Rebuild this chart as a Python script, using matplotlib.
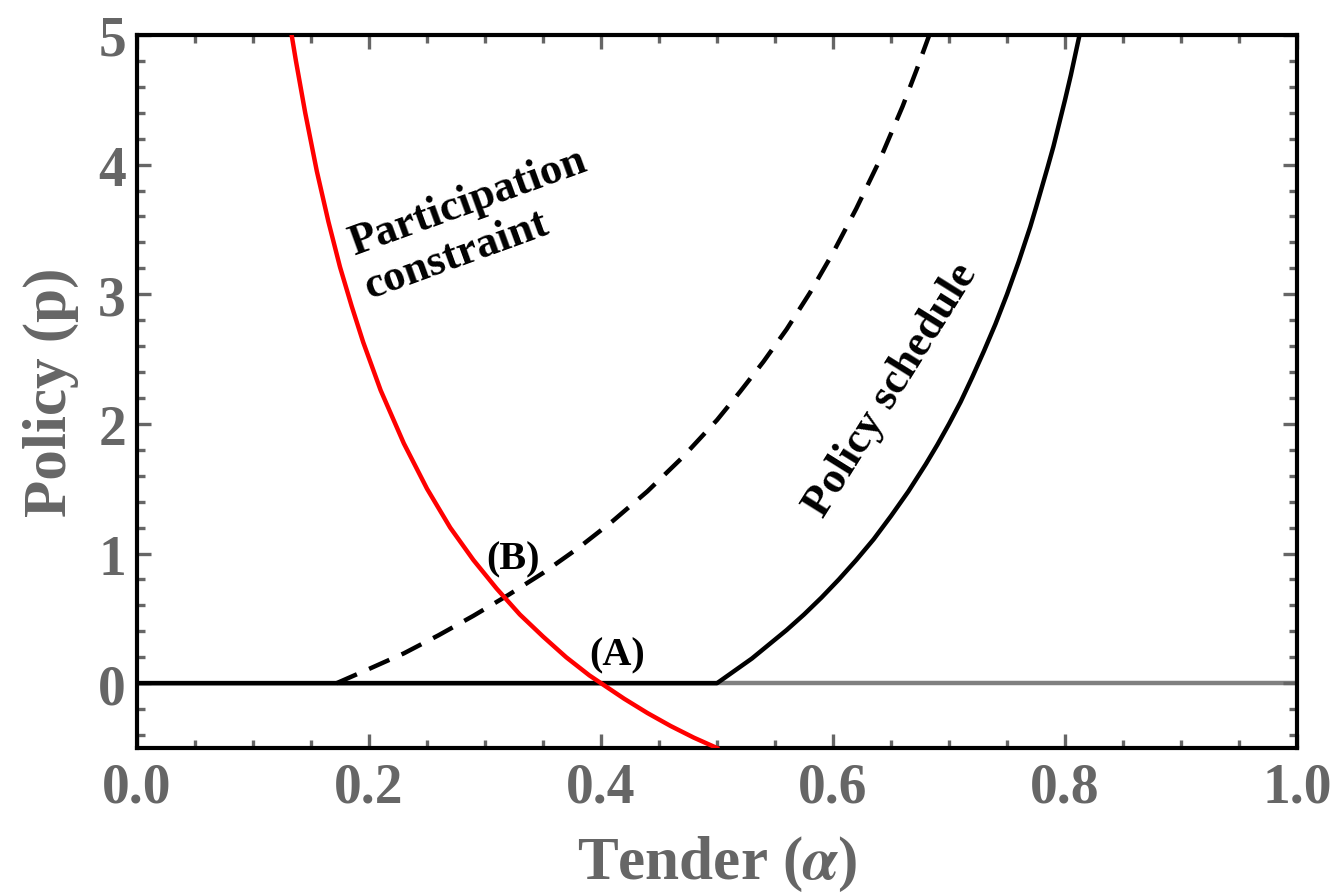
import numpy as np
import matplotlib.pyplot as plt
from matplotlib.ticker import MultipleLocator

plt.rcParams['font.family'] = ['Liberation Serif', 'DejaVu Serif']
plt.rcParams['font.weight'] = 'bold'
plt.rcParams['mathtext.fontset'] = 'stix'

# participation constraint (red)
a_part = [0.1333, 0.137, 0.145, 0.155, 0.165, 0.175, 0.185, 0.195, 0.210, 0.230,
          0.250, 0.270, 0.290, 0.310, 0.330, 0.350, 0.370, 0.390, 0.400, 0.420,
          0.440, 0.460, 0.480, 0.500]
p_part = [5.00, 4.80, 4.40, 3.95, 3.56, 3.21, 2.91, 2.63, 2.26, 1.85,
          1.50, 1.20, 0.95, 0.73, 0.53, 0.36, 0.20, 0.06, 0.00, -0.12,
          -0.23, -0.33, -0.42, -0.50]

# dashed schedule
a_dash = [0.172, 0.200, 0.230, 0.260, 0.290, 0.320, 0.350, 0.380, 0.410, 0.440,
          0.470, 0.500, 0.520, 0.540, 0.560, 0.580, 0.600, 0.620, 0.640, 0.660,
          0.672, 0.683]
p_dash = [0.00, 0.11, 0.23, 0.37, 0.52, 0.68, 0.85, 1.04, 1.25, 1.48,
          1.74, 2.03, 2.25, 2.48, 2.73, 3.01, 3.32, 3.66, 4.03, 4.45,
          4.73, 5.00]

# policy schedule (solid)
a_pol = [0.000, 0.500, 0.530, 0.545, 0.560, 0.575, 0.590, 0.605, 0.620, 0.635,
         0.650, 0.665, 0.680, 0.690, 0.700, 0.710, 0.720, 0.730, 0.740, 0.750,
         0.760, 0.770, 0.775, 0.785, 0.790, 0.800, 0.805, 0.8125]
p_pol = [0.00, 0.00, 0.19, 0.30, 0.41, 0.53, 0.66, 0.80, 0.95, 1.11,
         1.29, 1.48, 1.69, 1.84, 2.00, 2.17, 2.36, 2.56, 2.77, 3.00,
         3.25, 3.52, 3.67, 3.98, 4.14, 4.50, 4.69, 5.00]

gray = '#666666'

fig = plt.figure(figsize=(13.34, 8.95), dpi=100)
ax = fig.add_axes([0.1027, 0.1631, 0.8696, 0.7967])

ax.axhline(0, color='#808080', lw=3.2, zorder=1)
ax.plot(a_dash, p_dash, color='black', lw=3.2, dashes=(5, 3), zorder=2)
ax.plot(a_pol, p_pol, color='black', lw=3.2, zorder=3)
ax.plot(a_part, p_part, color='red', lw=3.2, zorder=4)

ax.set_xlim(0, 1)
ax.set_ylim(-0.5, 5)
ax.xaxis.set_major_locator(MultipleLocator(0.2))
ax.xaxis.set_minor_locator(MultipleLocator(0.05))
ax.yaxis.set_major_locator(MultipleLocator(1))
ax.yaxis.set_minor_locator(MultipleLocator(0.2))
ax.tick_params(which='both', direction='in', top=True, right=True,
               color=gray, width=2.4, labelcolor=gray, labelsize=40)
ax.tick_params(which='major', length=10)
ax.tick_params(which='minor', length=5.5)
ax.tick_params(axis='x', pad=10)
ax.tick_params(axis='y', pad=8)
for s in ax.spines.values():
    s.set_linewidth(3.0)
    s.set_color('black')

ax.set_xlabel(r'Tender ($\alpha$)', fontsize=44, fontweight='bold', color=gray, labelpad=14)
ax.set_ylabel('Policy (p)', fontsize=44, fontweight='bold', color=gray, labelpad=14)

ax.text(0.292, 3.55, 'Participation\nconstraint', fontsize=32, rotation=20,
        rotation_mode='anchor', ha='center', va='center', multialignment='left')
ax.text(0.650, 2.27, 'Policy schedule', fontsize=32, rotation=58,
        rotation_mode='anchor', ha='center', va='center')
ax.text(0.324, 0.96, '(B)', fontsize=29, ha='center', va='center')
ax.text(0.414, 0.22, '(A)', fontsize=29, ha='center', va='center')

fig.savefig('out.png', dpi=100)
